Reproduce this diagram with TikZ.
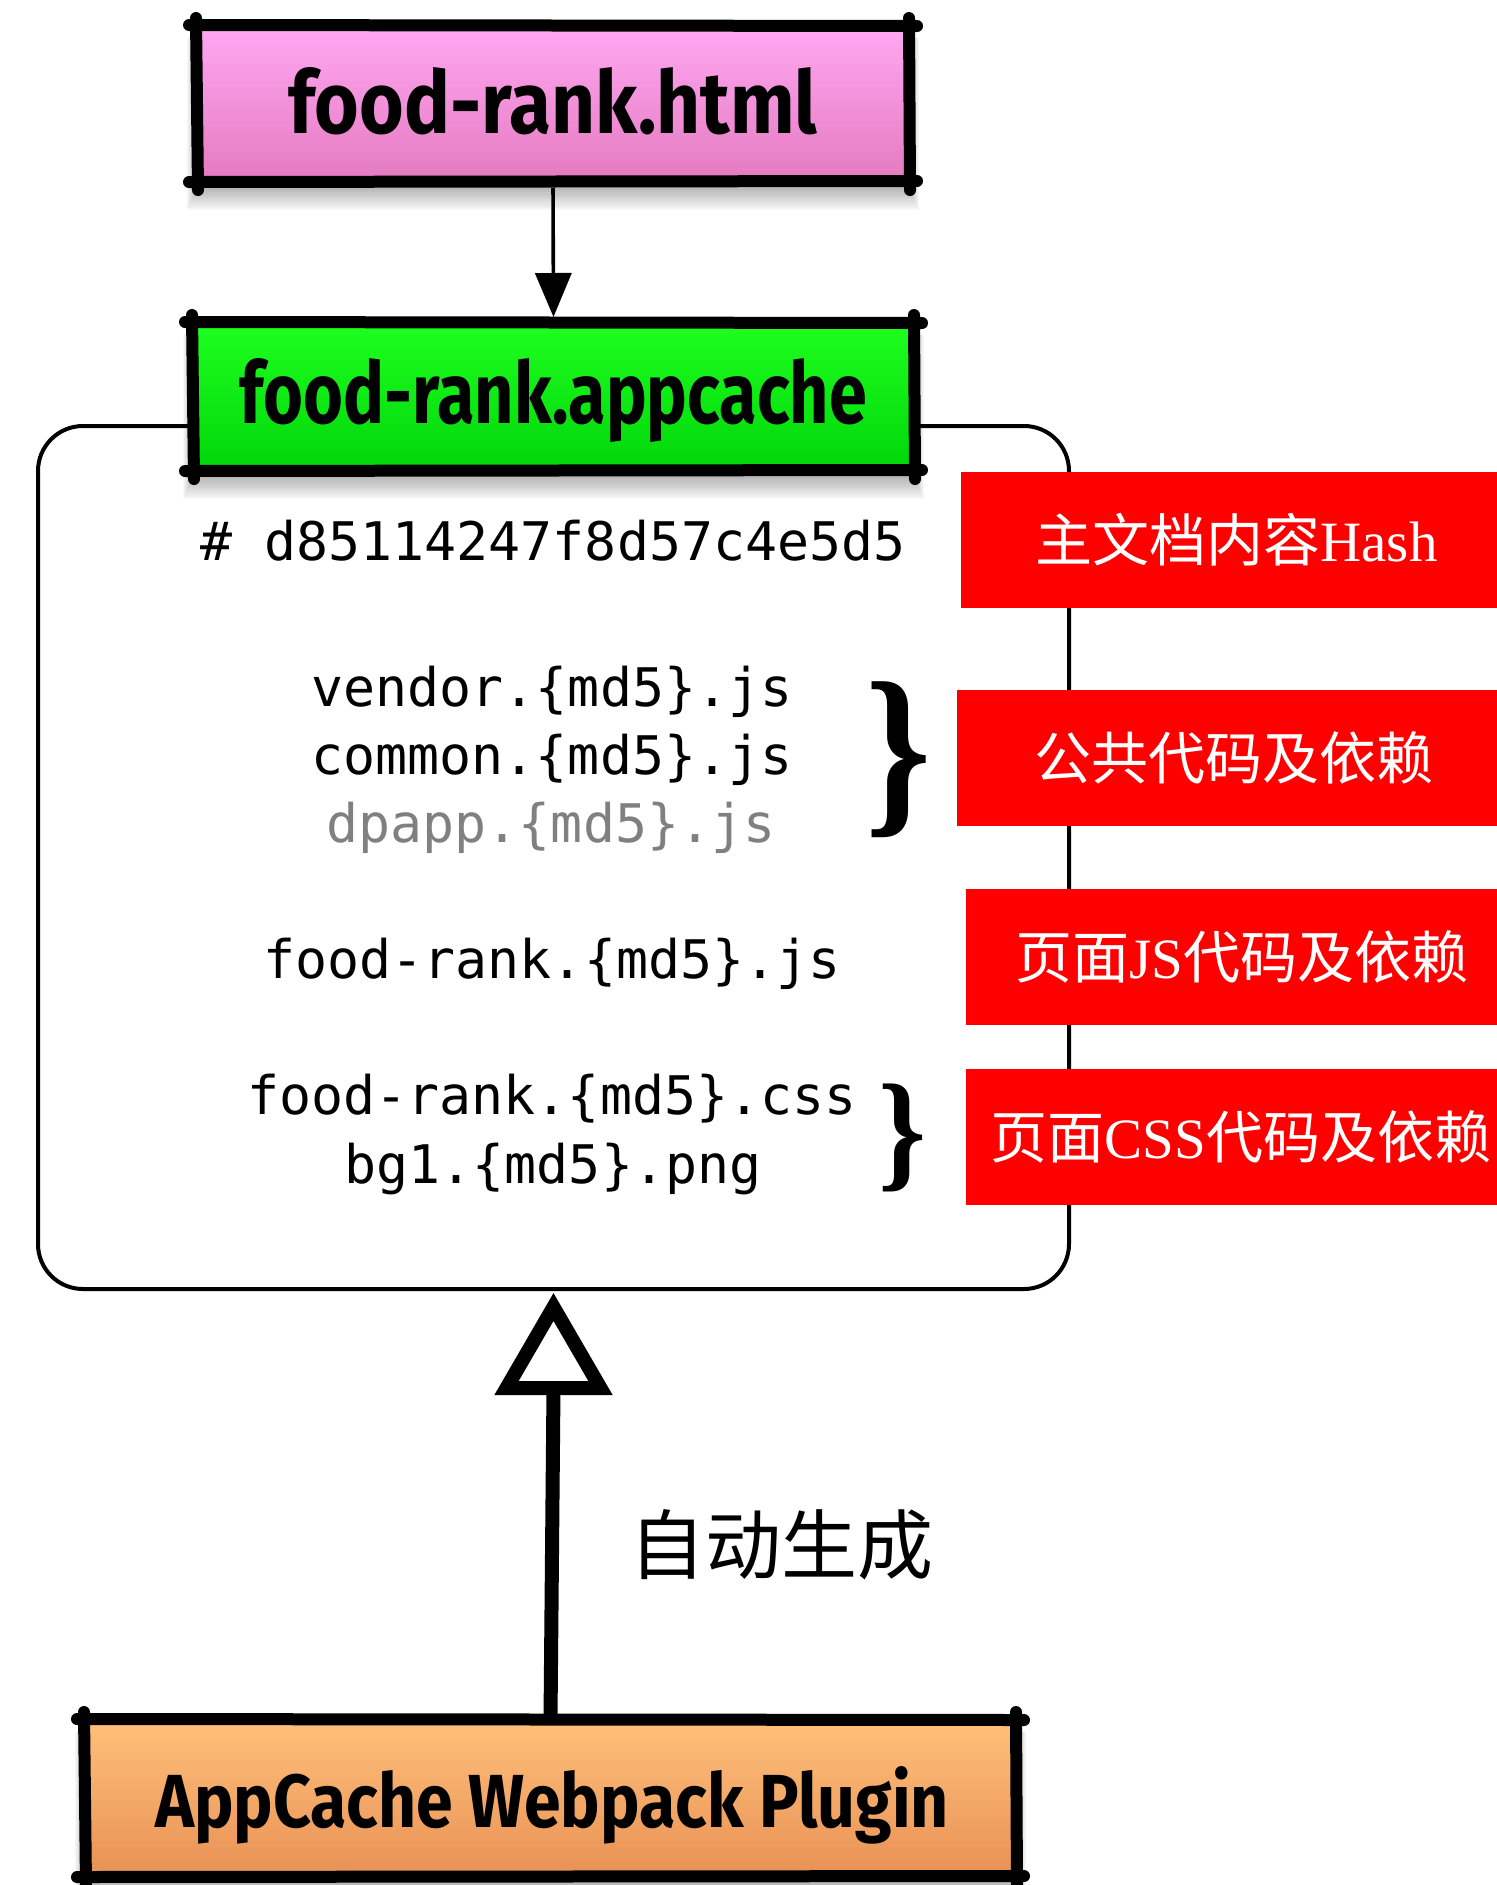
\documentclass[tikz,border=0pt]{standalone}
\usepackage{fontspec}
\usepackage{graphicx}
\usetikzlibrary{arrows.meta}
\newfontfamily\cjkf{Noto Sans CJK SC}
\newfontfamily\monof{DejaVu Sans Mono}
\newfontfamily\seriff{Liberation Serif}
\newfontfamily\titlef{Fira Sans}
\definecolor{pinkT}{RGB}{255,168,242}
\definecolor{pinkM}{RGB}{249,134,213}
\definecolor{pinkB}{RGB}{228,122,192}
\definecolor{greenT}{RGB}{30,255,30}
\definecolor{greenM}{RGB}{3,242,12}
\definecolor{greenB}{RGB}{0,214,10}
\definecolor{orangeT}{RGB}{255,192,122}
\definecolor{orangeM}{RGB}{250,163,96}
\definecolor{orangeB}{RGB}{232,145,85}
\definecolor{codegray}{RGB}{128,128,128}
\tikzset{
  titlebox/.style={rectangle, inner sep=0pt, outer sep=0pt},
  hand/.style={line width=6pt, line cap=round},
  redbox/.style={rectangle, fill=red, inner sep=0pt, outer sep=0pt, text=white,
    font=\cjkf\fontsize{28.5pt}{34pt}\selectfont},
  code/.style={anchor=base, inner sep=0pt, font=\monof\fontsize{26.6pt}{32pt}\selectfont},
}
\newcommand\handframe[1]{%
  \draw[hand] ([xshift=-4pt,yshift=0.5pt]#1.north west) -- ([xshift=4pt]#1.north east);
  \draw[hand] ([xshift=-4pt]#1.south west) -- ([xshift=4pt,yshift=0.5pt]#1.south east);
  \draw[hand] ([yshift=4pt,xshift=-0.5pt]#1.north west) -- ([yshift=-4pt,xshift=0.5pt]#1.south west);
  \draw[hand] ([yshift=4pt]#1.north east) -- ([yshift=-4pt,xshift=0.5pt]#1.south east);
}
\newcommand\boxshadow[1]{%
  \foreach \i in {1,...,10}{%
    \fill[black,opacity=0.03] ([xshift={-0.5pt*\i},yshift=-6pt]#1.north west)
      rectangle ([xshift={0.5pt*\i},yshift={-3pt-1.1pt*\i}]#1.south east);}%
}
\begin{document}
\begin{tikzpicture}[x=0.5pt,y=-0.5pt]
\useasboundingbox (0,0) rectangle (1496,1885);

% manifest frame
\node[draw, rounded corners=22.5pt, line width=2pt, minimum width=515.5pt,
      minimum height=431.5pt, inner sep=0pt, outer sep=0pt] (manifest) at (553.5,857.5) {};

% title boxes
\node[titlebox, minimum width=356pt, minimum height=78pt] (html) at (553,104) {};
\node[titlebox, minimum width=360.5pt, minimum height=74pt] (app) at (553.5,397) {};
\node[titlebox, minimum width=465.5pt, minimum height=78.5pt] (plugin) at (550.5,1798.5) {};

% connectors
\draw[line width=1.8pt, shorten <=3pt, shorten >=3pt,
      -{Triangle[length=22pt,width=18pt]}] (html.south) -- (app.north);
\coordinate (tip) at ([yshift=-9pt]manifest.south);
\coordinate (tribase) at ([yshift=-40.5pt]tip);
\draw[line width=7pt] (plugin.north) -- (tribase);
\draw[line width=7pt, fill=white, miter limit=10] (tip) -- ++(-47,81) -- ++(94,0) -- cycle;

% shadows
\boxshadow{html}
\boxshadow{app}
\boxshadow{plugin}

% fills and borders
\shade[top color=pinkT, middle color=pinkM, bottom color=pinkB] (html.north west) rectangle (html.south east);
\shade[top color=greenT, middle color=greenM, bottom color=greenB] (app.north west) rectangle (app.south east);
\shade[top color=orangeT, middle color=orangeM, bottom color=orangeB] (plugin.north west) rectangle (plugin.south east);
\handframe{html}
\handframe{app}
\handframe{plugin}

\node[inner sep=0pt] (htmltext) at (553,101) {\resizebox{264.5pt}{33pt}{\titlef\bfseries food-rank.html}};
\node[inner sep=0pt] (apptext) at (553.5,400) {\resizebox{313.5pt}{32.5pt}{\titlef\bfseries food-rank.appcache}};
\node[inner sep=0pt] (plugintext) at (552,1805) {\resizebox{397pt}{30.5pt}{\titlef\bfseries AppCache Webpack Plugin}};

% code lines
\node[code] (hash) at (553,560) {\# d85114247f8d57c4e5d5};
\node[code] (vendor) at (552,706) {vendor.\{md5\}.js};
\node[code] (common) at (552,774) {common.\{md5\}.js};
\node[code, text=codegray] (dpapp) at (551,842) {dpapp.\{md5\}.js};
\node[code] (pagejs) at (552,978) {food-rank.\{md5\}.js};
\node[code] (pagecss) at (552,1114) {food-rank.\{md5\}.css};
\node[code] (bg) at (553,1183) {bg1.\{md5\}.png};

% braces
\node[inner sep=0pt] (brace1) at (899,759.5) {\resizebox*{33pt}{78pt}{\seriff\bfseries\}}};
\node[inner sep=0pt] (brace2) at (902,1137.5) {\resizebox*{24pt}{54pt}{\seriff\bfseries\}}};

% red labels
\node[redbox, minimum width=275.5pt, minimum height=68pt] (lab1) at (1236.5,540) {主文档内容{\seriff Hash}};
\node[redbox, minimum width=276.5pt, minimum height=68pt] (lab2) at (1233.5,758) {公共代码及依赖};
\node[redbox, minimum width=276pt, minimum height=68pt] (lab3) at (1242,957) {页面{\seriff JS}代码及依赖};
\node[redbox, minimum width=275pt, minimum height=68pt] (lab4) at (1241,1137) {页面{\seriff CSS}代码及依赖};

% generation label
\node[font=\cjkf\fontsize{38pt}{44pt}\selectfont, inner sep=0pt] (auto) at (781,1545) {自动生成};
\end{tikzpicture}
\end{document}
